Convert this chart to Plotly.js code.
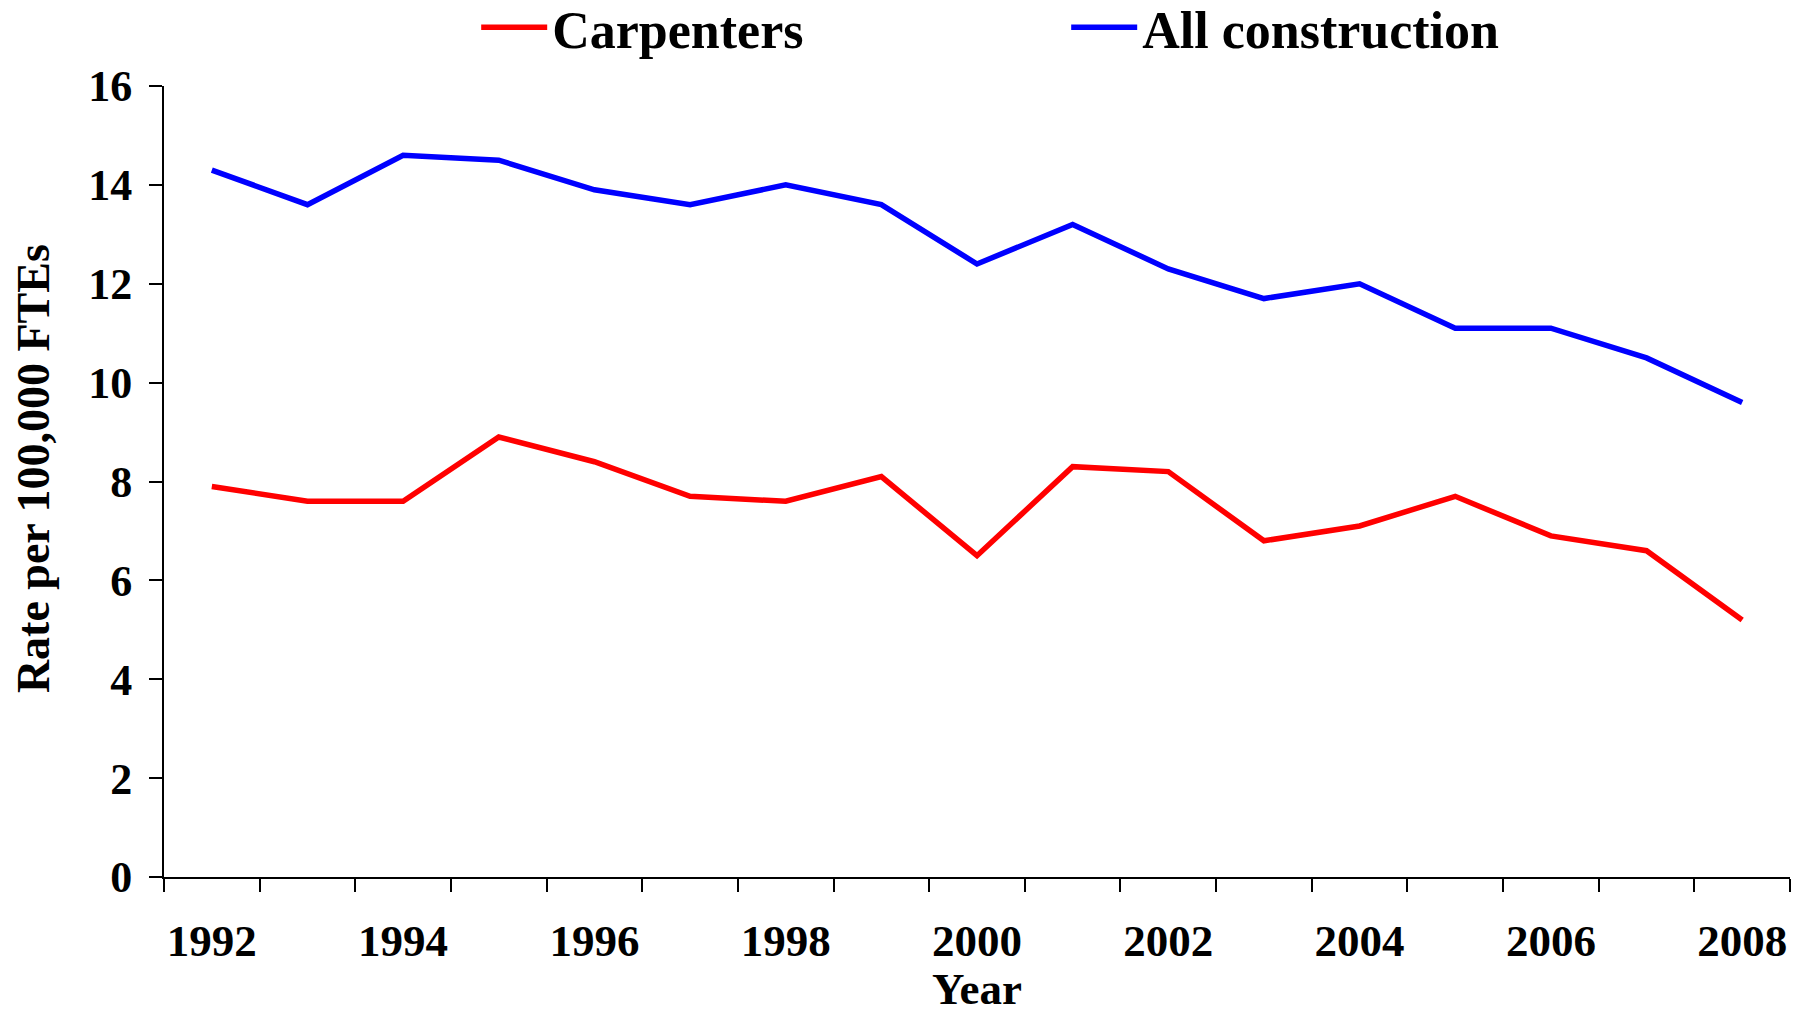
<!DOCTYPE html>
<html>
<head>
<meta charset="utf-8">
<script src="https://cdn.plot.ly/plotly-3.0.1.min.js"></script>
<style>
html,body{margin:0;padding:0;background:#fff;}
#chart{width:1806px;height:1013px;}
</style>
</head>
<body>
<div id="chart"></div>
<script>
var years = [1992,1993,1994,1995,1996,1997,1998,1999,2000,2001,2002,2003,2004,2005,2006,2007,2008];
var carpenters = [7.9,7.6,7.6,8.9,8.4,7.7,7.6,8.1,6.5,8.3,8.2,6.8,7.1,7.7,6.9,6.6,5.2];
var allConstruction = [14.3,13.6,14.6,14.5,13.9,13.6,14.0,13.6,12.4,13.2,12.3,11.7,12.0,11.1,11.1,10.5,9.6];
var xTickLabels = [1992,1994,1996,1998,2000,2002,2004,2006,2008];
var yTicks = [0,2,4,6,8,10,12,14,16];
var xTitle = 'Year';
var yTitle = 'Rate per 100,000 FTEs';

var boundaries = [];
for (var i = 0; i <= years.length; i++) boundaries.push(years[0] - 0.5 + i);

var FONT = '"Liberation Serif", "Times New Roman", serif';

var traces = [
  {x: years, y: carpenters, name: 'Carpenters', type: 'scatter', mode: 'lines',
   line: {color: '#FF0000', width: 5.5}},
  {x: years, y: allConstruction, name: 'All construction', type: 'scatter', mode: 'lines',
   line: {color: '#0000FF', width: 5.5}}
];

var layout = {
  width: 1806, height: 1013,
  margin: {l: 164, r: 16, t: 86, b: 136, autoexpand: false},
  paper_bgcolor: '#fff', plot_bgcolor: '#fff',
  font: {family: FONT, color: '#000', size: 44, weight: 'bold'},
  showlegend: true,
  legend: {
    orientation: 'h', x: 0.192, xanchor: 'left', y: 1.074, yanchor: 'middle',
    font: {family: FONT, size: 52, color: '#000', weight: 'bold'},
    itemwidth: 66,
    entrywidth: 509, entrywidthmode: 'pixels', bgcolor: 'rgba(0,0,0,0)'
  },
  xaxis: {
    range: [years[0] - 0.5, years[years.length - 1] + 0.5],
    tickmode: 'array', tickvals: xTickLabels, ticktext: xTickLabels.map(String),
    ticks: '', ticklabelstandoff: 23,
    tickfont: {family: FONT, size: 45, color: '#000', weight: 'bold'},
    showline: true, linecolor: '#000', linewidth: 2, showgrid: false, zeroline: false,
    minor: {tickmode: 'array', tickvals: boundaries, ticks: 'outside', ticklen: 13,
            tickwidth: 2, tickcolor: '#000', showgrid: false},
    fixedrange: true
  },
  yaxis: {
    range: [0, 16], tickmode: 'array', tickvals: yTicks,
    ticks: 'outside', ticklen: 13, tickwidth: 2, tickcolor: '#000',
    ticklabelstandoff: 8,
    tickfont: {family: FONT, size: 44, color: '#000', weight: 'bold'},
    showline: true, linecolor: '#000', linewidth: 2, showgrid: false, zeroline: false,
    fixedrange: true
  },
  annotations: [
    {text: xTitle, xref: 'paper', yref: 'paper', x: 0.5, y: -0.142,
     xanchor: 'center', yanchor: 'middle', showarrow: false,
     font: {family: FONT, size: 45, color: '#000', weight: 'bold'}},
    {text: yTitle, xref: 'paper', yref: 'paper', x: -0.0805, y: 0.5158,
     xanchor: 'center', yanchor: 'middle', showarrow: false, textangle: -90,
     font: {family: FONT, size: 46, color: '#000', weight: 'bold'}}
  ]
};

Plotly.newPlot('chart', traces, layout, {displayModeBar: false, staticPlot: true});
</script>
</body>
</html>
